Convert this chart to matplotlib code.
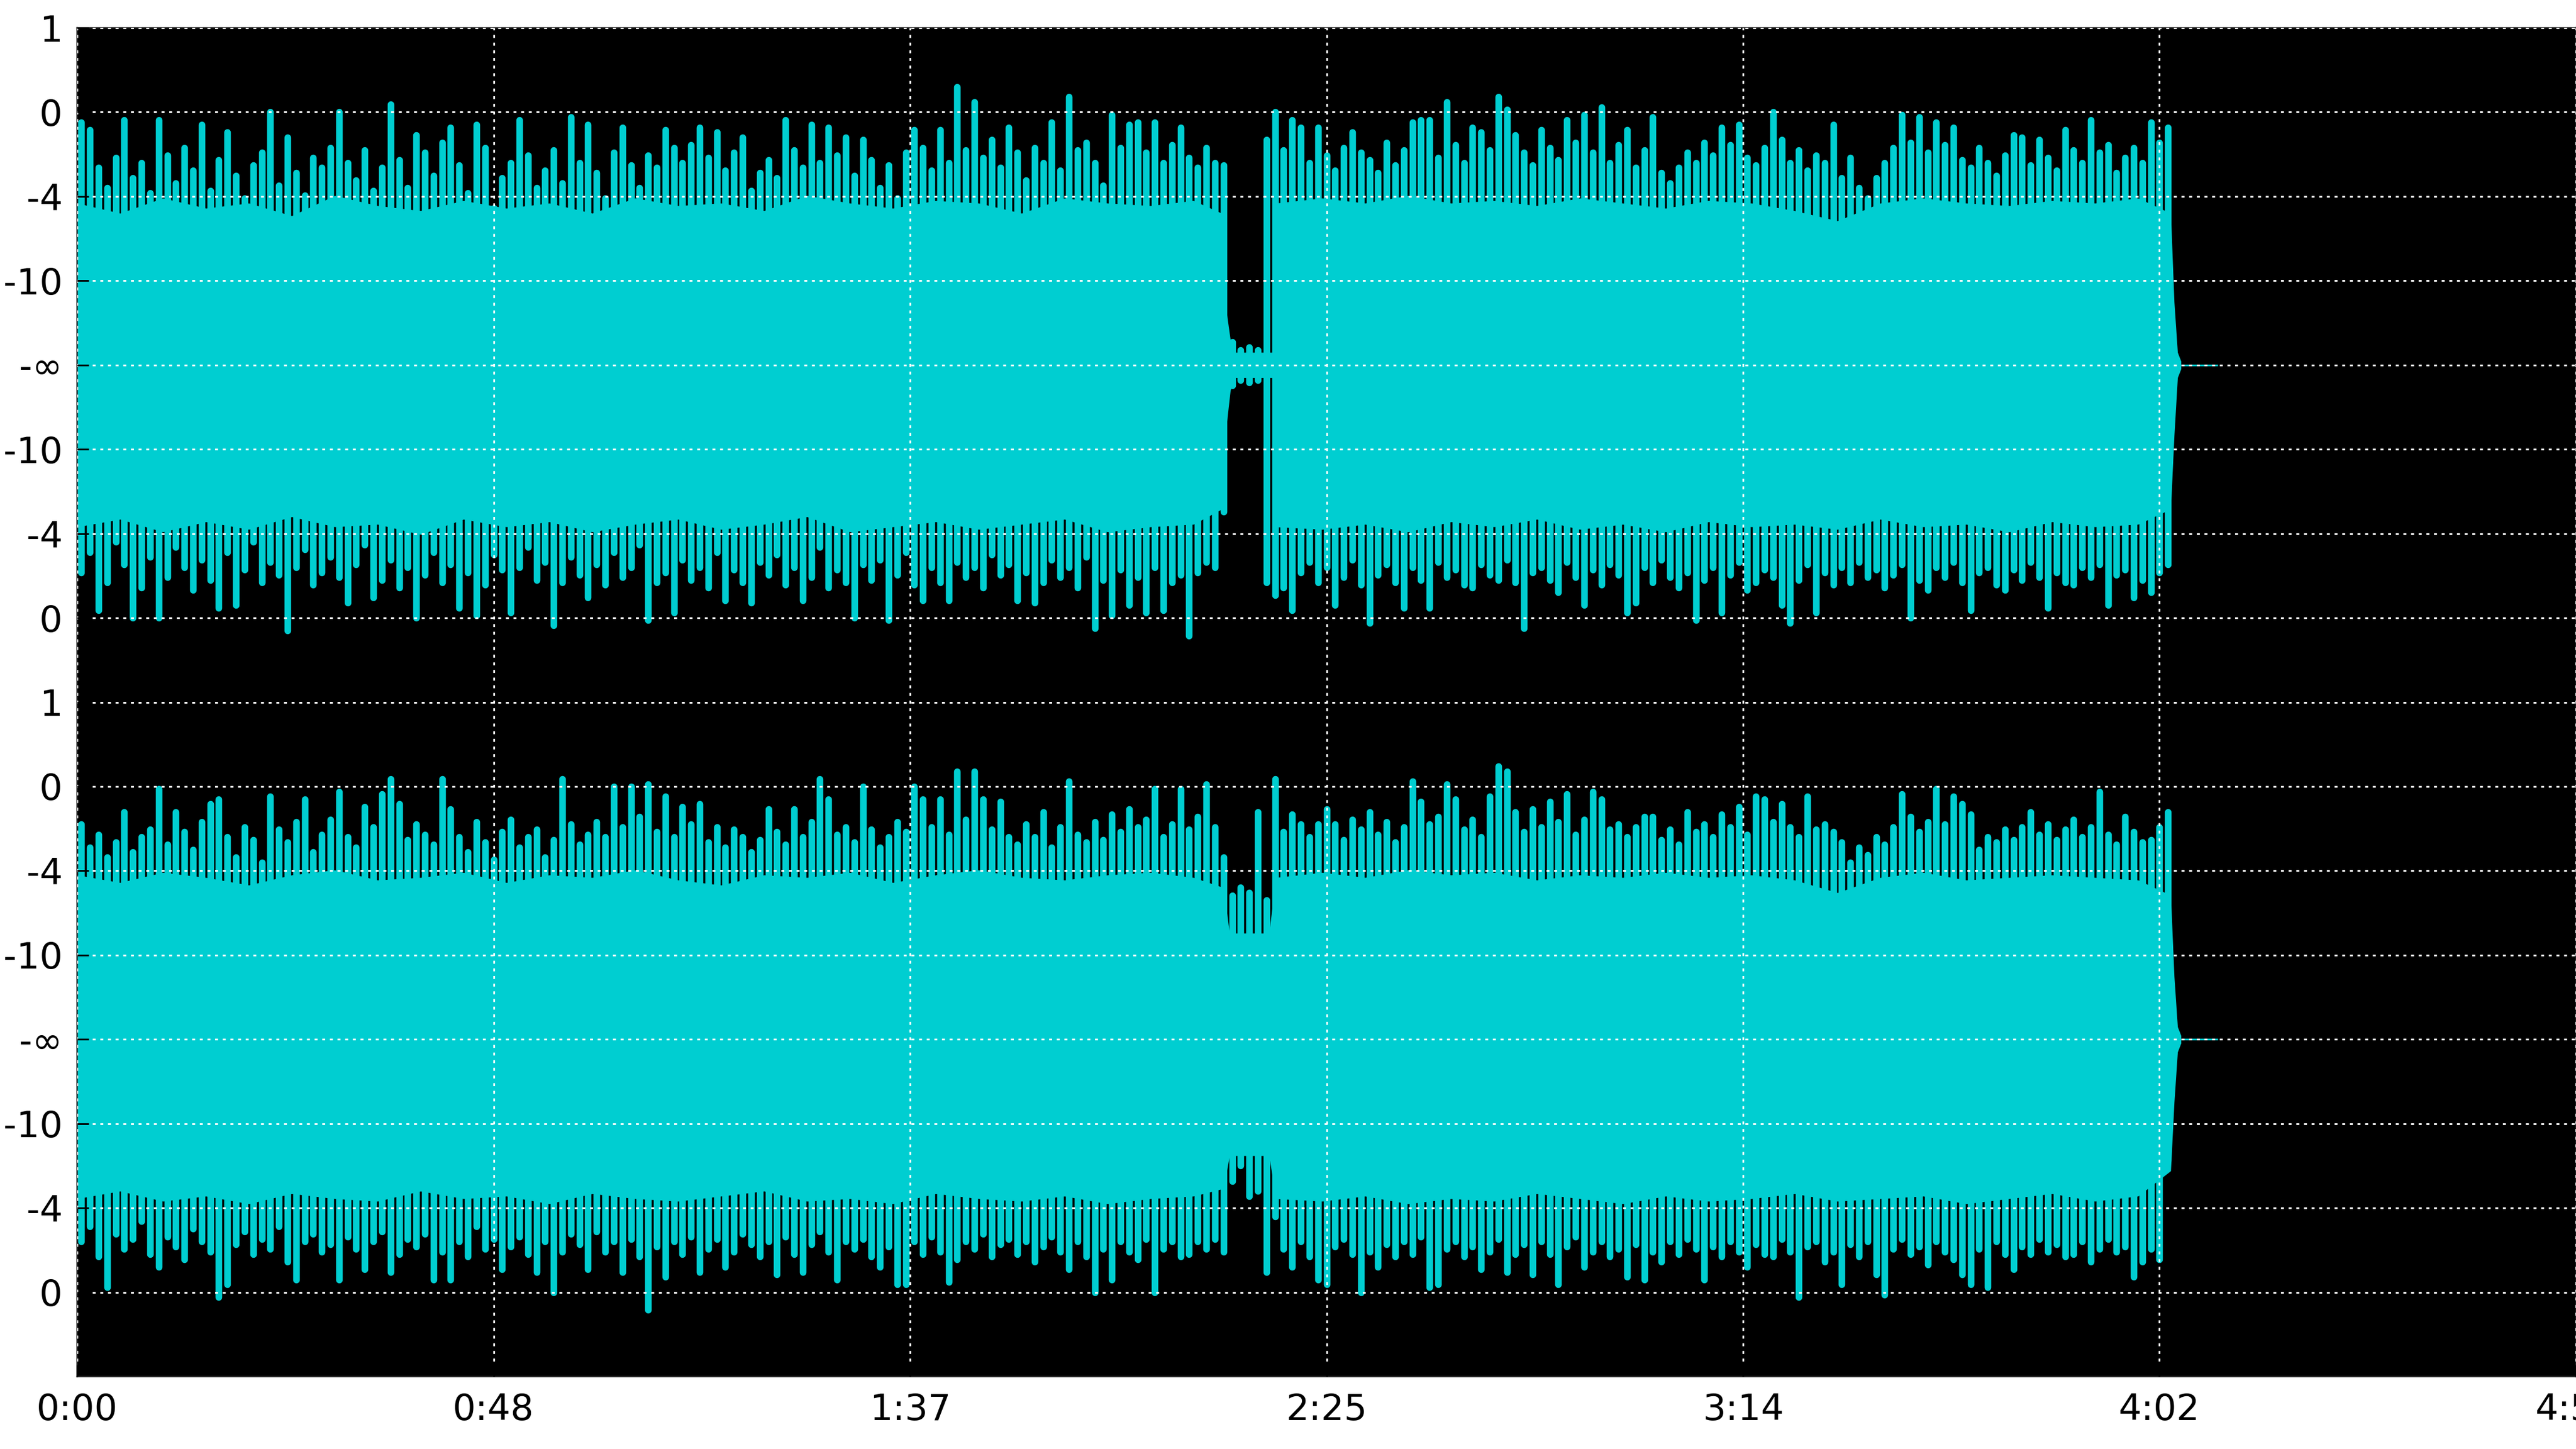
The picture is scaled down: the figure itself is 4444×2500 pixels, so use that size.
import numpy as np
import matplotlib
matplotlib.use("Agg")
import matplotlib.pyplot as plt

# --- data (amplitude as fraction of full scale, 1.0 = the "0" grid line) ---
# peak values, one per second of audio (stroke sits in the middle of the second)
ch1_peak_up = [
    0.96, 0.93, 0.78, 0.70, 0.82, 0.97, 0.74, 0.80, 0.68, 0.97,
    0.83, 0.72, 0.86, 0.77, 0.95, 0.69, 0.81, 0.92, 0.75, 0.66,
    0.79, 0.84, 1.00, 0.71, 0.90, 0.76, 0.67, 0.82, 0.78, 0.86,
    1.00, 0.80, 0.73, 0.85, 0.69, 0.78, 1.03, 0.81, 0.70, 0.91,
    0.84, 0.75, 0.88, 0.94, 0.79, 0.68, 0.95, 0.86, 0.62, 0.74,
    0.80, 0.97, 0.83, 0.70, 0.77, 0.85, 0.72, 0.98, 0.80, 0.95,
    0.76, 0.66, 0.84, 0.94, 0.79, 0.70, 0.83, 0.78, 0.93, 0.86,
    0.80, 0.87, 0.94, 0.82, 0.92, 0.77, 0.84, 0.90, 0.69, 0.76,
    0.81, 0.74, 0.97, 0.85, 0.78, 0.95, 0.80, 0.94, 0.83, 0.90,
    0.75, 0.89, 0.81, 0.70, 0.79, 0.66, 0.84, 0.93, 0.86, 0.77,
    0.93, 0.80, 1.10, 0.85, 1.04, 0.82, 0.89, 0.78, 0.94, 0.84,
    0.73, 0.86, 0.80, 0.96, 0.77, 1.06, 0.85, 0.88, 0.80, 0.71,
    0.99, 0.86, 0.95, 0.96, 0.84, 0.96, 0.80, 0.87, 0.94, 0.82,
    0.78, 0.86, 0.80, 0.79, 0.09, 0.06, 0.07, 0.06, 0.89, 1.00,
    0.85, 0.97, 0.94, 0.80, 0.94, 0.83, 0.77, 0.86, 0.92, 0.84,
    0.81, 0.76, 0.88, 0.79, 0.85, 0.96, 0.97, 0.97, 0.82, 1.04,
    0.87, 0.80, 0.94, 0.92, 0.85, 1.06, 1.01, 0.91, 0.84, 0.79,
    0.93, 0.86, 0.81, 0.97, 0.88, 0.99, 0.84, 1.02, 0.80, 0.87,
    0.93, 0.78, 0.85, 0.98, 0.76, 0.72, 0.78, 0.84, 0.80, 0.88,
    0.83, 0.94, 0.87, 0.95, 0.82, 0.79, 0.86, 1.00, 0.89, 0.80,
    0.85, 0.77, 0.83, 0.80, 0.95, 0.74, 0.82, 0.70, 0.66, 0.74,
    0.80, 0.86, 0.99, 0.88, 0.98, 0.84, 0.96, 0.87, 0.94, 0.81,
    0.78, 0.86, 0.80, 0.75, 0.83, 0.91, 0.90, 0.79, 0.89, 0.82,
    0.77, 0.93, 0.85, 0.80, 0.97, 0.84, 0.87, 0.76, 0.82, 0.86,
    0.80, 0.96, 0.88, 0.94,
]
ch1_peak_lo = [
    -0.82, -0.74, -0.97, -0.86, -0.70, -0.79, -1.00, -0.88, -0.76, -1.00,
    -0.84, -0.72, -0.80, -0.89, -0.77, -0.85, -0.96, -0.74, -0.95, -0.81,
    -0.70, -0.86, -0.78, -0.83, -1.05, -0.80, -0.73, -0.87, -0.82, -0.76,
    -0.84, -0.94, -0.79, -0.71, -0.92, -0.85, -0.77, -0.88, -0.80, -1.00,
    -0.83, -0.74, -0.86, -0.79, -0.96, -0.82, -0.99, -0.87, -0.75, -0.81,
    -0.98, -0.80, -0.72, -0.85, -0.78, -1.03, -0.86, -0.76, -0.83, -0.92,
    -0.79, -0.87, -0.74, -0.84, -0.80, -0.71, -1.01, -0.86, -0.82, -0.98,
    -0.77, -0.85, -0.80, -0.88, -0.74, -0.93, -0.81, -0.86, -0.94, -0.78,
    -0.83, -0.75, -0.87, -0.80, -0.93, -0.84, -0.72, -0.88, -0.81, -0.86,
    -1.00, -0.79, -0.85, -0.77, -1.01, -0.83, -0.74, -0.87, -0.93, -0.80,
    -0.86, -0.93, -0.78, -0.84, -0.80, -0.88, -0.75, -0.83, -0.79, -0.93,
    -0.82, -0.94, -0.86, -0.77, -0.84, -0.80, -0.88, -0.76, -1.04, -0.85,
    -0.99, -0.81, -0.95, -0.84, -0.98, -0.80, -0.97, -0.86, -0.83, -1.07,
    -0.82, -0.78, -0.80, -0.58, -0.08, -0.06, -0.07, -0.06, -0.86, -0.91,
    -0.88, -0.97, -0.82, -0.78, -0.86, -0.80, -0.95, -0.84, -0.77, -0.87,
    -1.02, -0.83, -0.79, -0.86, -0.96, -0.80, -0.85, -0.96, -0.78, -0.84,
    -0.81, -0.87, -0.88, -0.79, -0.83, -0.85, -0.77, -0.86, -1.04, -0.82,
    -0.80, -0.85, -0.90, -0.78, -0.84, -0.95, -0.81, -0.87, -0.79, -0.83,
    -0.98, -0.94, -0.80, -0.86, -0.77, -0.84, -0.88, -0.82, -1.01, -0.85,
    -0.80, -0.98, -0.83, -0.78, -0.89, -0.86, -0.81, -0.84, -0.95, -1.02,
    -0.85, -0.79, -0.98, -0.82, -0.87, -0.80, -0.86, -0.78, -0.84, -0.81,
    -0.88, -0.83, -0.79, -1.00, -0.85, -0.89, -0.80, -0.84, -0.78, -0.86,
    -0.97, -0.82, -0.80, -0.87, -0.89, -0.81, -0.85, -0.78, -0.84, -0.96,
    -0.82, -0.86, -0.87, -0.80, -0.84, -0.79, -0.95, -0.83, -0.81, -0.92,
    -0.85, -0.90, -0.82, -0.79,
]
ch2_peak_up = [
    0.85, 0.76, 0.81, 0.72, 0.78, 0.90, 0.74, 0.80, 0.83, 0.99,
    0.77, 0.90, 0.82, 0.75, 0.86, 0.93, 0.95, 0.80, 0.72, 0.84,
    0.79, 0.70, 0.96, 0.83, 0.78, 0.86, 0.95, 0.74, 0.81, 0.87,
    0.98, 0.80, 0.76, 0.92, 0.84, 0.97, 1.03, 0.93, 0.79, 0.85,
    0.81, 0.77, 1.03, 0.91, 0.80, 0.74, 0.86, 0.78, 0.71, 0.82,
    0.87, 0.76, 0.80, 0.83, 0.72, 0.79, 1.03, 0.85, 0.77, 0.81,
    0.86, 0.80, 1.00, 0.84, 1.00, 0.88, 1.01, 0.82, 0.96, 0.80,
    0.92, 0.85, 0.93, 0.78, 0.84, 0.76, 0.83, 0.80, 0.74, 0.79,
    0.91, 0.82, 0.77, 0.91, 0.80, 0.86, 1.03, 0.95, 0.81, 0.84,
    0.78, 1.00, 0.83, 0.76, 0.80, 0.86, 0.82, 1.00, 0.95, 0.84,
    0.95, 0.81, 1.06, 0.87, 1.06, 0.95, 0.83, 0.94, 0.80, 0.77,
    0.85, 0.80, 0.90, 0.76, 0.84, 1.02, 0.81, 0.78, 0.86, 0.79,
    0.89, 0.82, 0.91, 0.84, 0.87, 0.99, 0.80, 0.85, 0.99, 0.83,
    0.88, 1.01, 0.84, 0.72, 0.57, 0.60, 0.58, 0.90, 0.55, 1.03,
    0.82, 0.89, 0.85, 0.80, 0.85, 0.91, 0.85, 0.79, 0.87, 0.83,
    0.90, 0.81, 0.86, 0.78, 0.84, 1.02, 0.94, 0.85, 0.88, 1.01,
    0.95, 0.83, 0.87, 0.80, 0.96, 1.08, 1.06, 0.90, 0.82, 0.91,
    0.84, 0.94, 0.86, 0.97, 0.81, 0.87, 0.98, 0.95, 0.83, 0.85,
    0.80, 0.84, 0.88, 0.88, 0.79, 0.83, 0.77, 0.90, 0.82, 0.85,
    0.80, 0.89, 0.84, 0.92, 0.81, 0.96, 0.95, 0.86, 0.93, 0.84,
    0.80, 0.96, 0.83, 0.85, 0.82, 0.78, 0.70, 0.76, 0.73, 0.80,
    0.77, 0.84, 0.97, 0.88, 0.82, 0.86, 0.99, 0.85, 0.96, 0.93,
    0.89, 0.75, 0.80, 0.78, 0.83, 0.79, 0.84, 0.90, 0.81, 0.85,
    0.79, 0.83, 0.87, 0.80, 0.84, 0.98, 0.81, 0.77, 0.88, 0.82,
    0.78, 0.79, 0.84, 0.90,
]
ch2_peak_lo = [
    -0.80, -0.74, -0.86, -0.98, -0.77, -0.83, -0.79, -0.72, -0.85, -0.90,
    -0.78, -0.82, -0.87, -0.75, -0.80, -0.84, -1.02, -0.97, -0.81, -0.76,
    -0.85, -0.79, -0.83, -0.74, -0.88, -0.95, -0.80, -0.77, -0.84, -0.81,
    -0.95, -0.78, -0.83, -0.91, -0.80, -0.76, -0.92, -0.85, -0.79, -0.82,
    -0.77, -0.95, -0.84, -0.95, -0.80, -0.86, -0.74, -0.83, -0.79, -0.91,
    -0.82, -0.78, -0.85, -0.92, -0.80, -1.00, -0.84, -0.77, -0.81, -0.91,
    -0.76, -0.84, -0.80, -0.92, -0.79, -0.86, -1.07, -0.82, -0.94, -0.80,
    -0.85, -0.78, -0.92, -0.83, -0.79, -0.90, -0.84, -0.77, -0.81, -0.86,
    -0.80, -0.93, -0.78, -0.85, -0.92, -0.81, -0.76, -0.84, -0.95, -0.80,
    -0.83, -0.79, -0.86, -0.90, -0.82, -0.97, -0.97, -0.80, -0.85, -0.78,
    -0.84, -0.96, -0.87, -0.80, -0.83, -0.77, -0.86, -0.81, -0.79, -0.85,
    -0.80, -0.88, -0.82, -0.78, -0.84, -0.91, -0.80, -0.86, -1.00, -0.83,
    -0.95, -0.80, -0.84, -0.87, -0.79, -1.00, -0.83, -0.80, -0.86, -0.85,
    -0.80, -0.83, -0.79, -0.84, -0.56, -0.50, -0.62, -0.60, -0.92, -0.70,
    -0.83, -0.90, -0.80, -0.86, -0.95, -0.97, -0.82, -0.79, -0.85, -1.00,
    -0.84, -0.90, -0.81, -0.86, -0.80, -0.85, -0.78, -0.98, -0.97, -0.83,
    -0.80, -0.86, -0.82, -0.91, -0.84, -0.79, -0.92, -0.85, -0.81, -0.93,
    -0.80, -0.85, -0.97, -0.82, -0.78, -0.90, -0.84, -0.80, -0.86, -0.83,
    -0.94, -0.81, -0.95, -0.84, -0.88, -0.80, -0.85, -0.79, -0.83, -0.95,
    -0.82, -0.86, -0.80, -0.84, -0.90, -0.81, -0.85, -0.86, -0.79, -0.84,
    -1.02, -0.82, -0.80, -0.88, -0.84, -0.97, -0.81, -0.86, -0.80, -0.93,
    -1.01, -0.83, -0.79, -0.85, -0.82, -0.89, -0.80, -0.84, -0.87, -0.93,
    -0.97, -0.83, -0.98, -0.80, -0.85, -0.91, -0.82, -0.85, -0.79, -0.84,
    -0.81, -0.86, -0.85, -0.80, -0.88, -0.83, -0.79, -0.84, -0.82, -0.94,
    -0.88, -0.83, -0.87, -0.48,
]

# dense "body" of the waveform, sampled coarser (seconds)
ch1_body_t = [0, 5, 10, 15, 20, 25, 30, 35, 40, 45, 50, 55, 60, 65, 70, 75, 80,
              85, 90, 95, 100, 105, 110, 115, 120, 125, 130,
              133.3, 133.8, 134.3, 134.8, 139.4, 139.6,
              145, 150, 155, 160, 165, 170, 175, 180, 185, 190, 195, 200, 205,
              210, 215, 220, 225, 230, 235, 240,
              243.8, 244.2, 244.6, 245.0]
ch1_body_up = [0.64, 0.60, 0.66, 0.62, 0.64, 0.59, 0.67, 0.63, 0.61, 0.65,
               0.62, 0.64, 0.60, 0.66, 0.63, 0.64, 0.61, 0.67, 0.64, 0.62,
               0.65, 0.64, 0.60, 0.66, 0.64, 0.63, 0.65,
               0.60, 0.22, 0.10, 0.05, 0.05, 0.64,
               0.66, 0.64, 0.67, 0.64, 0.65, 0.63, 0.66, 0.64, 0.62, 0.65,
               0.64, 0.61, 0.57, 0.64, 0.66, 0.64, 0.63, 0.65, 0.64, 0.66,
               0.60, 0.25, 0.05, 0.015]
ch1_body_lo = [-0.64, -0.61, -0.66, -0.62, -0.65, -0.60, -0.64, -0.63, -0.67, -0.61,
               -0.64, -0.62, -0.66, -0.63, -0.61, -0.65, -0.63, -0.60, -0.66, -0.64,
               -0.62, -0.65, -0.63, -0.61, -0.66, -0.64, -0.63,
               -0.57, -0.25, -0.10, -0.05, -0.05, -0.64,
               -0.65, -0.63, -0.66, -0.62, -0.64, -0.61, -0.65, -0.63, -0.66, -0.62,
               -0.64, -0.63, -0.65, -0.61, -0.64, -0.63, -0.66, -0.62, -0.64, -0.63,
               -0.57, -0.28, -0.05, -0.015]

ch2_body_t = [0, 5, 10, 15, 20, 25, 30, 35, 40, 45, 50, 55, 60, 65, 70, 75, 80,
              85, 90, 95, 100, 105, 110, 115, 120, 125, 130,
              133.5, 134.2, 138.8, 139.6,
              145, 150, 155, 160, 165, 170, 175, 180, 185, 190, 195, 200, 205,
              210, 215, 220, 225, 230, 235, 240,
              243.8, 244.2, 244.6, 245.0]
ch2_body_up = [0.65, 0.62, 0.66, 0.64, 0.61, 0.65, 0.67, 0.63, 0.64, 0.66,
               0.62, 0.65, 0.64, 0.67, 0.63, 0.61, 0.65, 0.64, 0.66, 0.62,
               0.65, 0.67, 0.64, 0.63, 0.65, 0.66, 0.64,
               0.60, 0.42, 0.42, 0.64,
               0.66, 0.64, 0.67, 0.65, 0.66, 0.63, 0.65, 0.64, 0.66, 0.64,
               0.65, 0.63, 0.58, 0.64, 0.66, 0.63, 0.64, 0.65, 0.64, 0.63,
               0.57, 0.25, 0.05, 0.015]
ch2_body_lo = [-0.63, -0.60, -0.64, -0.62, -0.65, -0.61, -0.63, -0.64, -0.60, -0.63,
               -0.62, -0.65, -0.61, -0.63, -0.64, -0.62, -0.60, -0.64, -0.63, -0.65,
               -0.61, -0.63, -0.64, -0.62, -0.65, -0.63, -0.62,
               -0.59, -0.46, -0.46, -0.63,
               -0.64, -0.62, -0.65, -0.63, -0.64, -0.61, -0.63, -0.65, -0.62, -0.64,
               -0.63, -0.61, -0.64, -0.63, -0.62, -0.65, -0.63, -0.61, -0.64, -0.62,
               -0.52, -0.25, -0.05, -0.015]

track_end = 249.3   # silence runs on to here (seconds)
view_end = 291.0

time_ticks = [0, 48.5, 97, 145.5, 194, 242.5, 291]
time_labels = ["0:00", "0:48", "1:37", "2:25", "3:14", "4:02", "4:51"]
db_labels = ["1", "0", "-4", "-10", "-\u221e", "-10", "-4", "0",
             "1", "0", "-4", "-10", "-\u221e", "-10", "-4", "0"]

WAVE = "#00CED1"
DPI = 100
PX = 72.0 / DPI     # one pixel in points


def draw_channel(ax, center, body_t, body_up, body_lo, peak_up, peak_lo):
    """Waveform for one channel, grid spacing of 1 = a third of full scale"""
    body_up = center + 3 * np.array(body_up)
    body_lo = center + 3 * np.array(body_lo)
    ax.fill_between(body_t, body_lo, body_up, color=WAVE, lw=0, zorder=2)

    t = np.arange(len(peak_up)) + 0.5
    ax.vlines(t, center + 3 * np.array(peak_lo), center + 3 * np.array(peak_up),
              color=WAVE, lw=11.5 * PX, capstyle="round", zorder=2)
    # flat tail of silence
    ax.hlines(center, body_t[-1], track_end, color=WAVE, lw=3 * PX, zorder=2)


fig = plt.figure(figsize=(4444 / DPI, 2500 / DPI), dpi=DPI)
ax = fig.add_axes([133 / 4444, 125 / 2500, 1 - 133 / 4444, 2327 / 2500])
ax.set_facecolor("black")

draw_channel(ax, 4, ch1_body_t, ch1_body_up, ch1_body_lo, ch1_peak_up, ch1_peak_lo)
draw_channel(ax, -4, ch2_body_t, ch2_body_up, ch2_body_lo, ch2_peak_up, ch2_peak_lo)

ax.set_xlim(0, view_end)
ax.set_ylim(-8, 8)
ax.set_xticks(time_ticks)
ax.set_xticklabels(time_labels)
ax.set_yticks(np.arange(8, -8, -1))
ax.set_yticklabels(db_labels)

ax.tick_params(direction="in", length=20 * PX, width=3 * PX, color="black",
               labelsize=45, labelcolor="black")
ax.tick_params(axis="y", pad=18)
ax.tick_params(axis="x", pad=20)

ax.set_axisbelow(False)
ax.grid(True, color="white", lw=3 * PX, linestyle=(0, (1.7, 2.7)))
for s in ax.spines.values():
    s.set_color("#222222")
    s.set_linewidth(2.5 * PX)

fig.savefig("out.png", dpi=DPI, facecolor="white")
